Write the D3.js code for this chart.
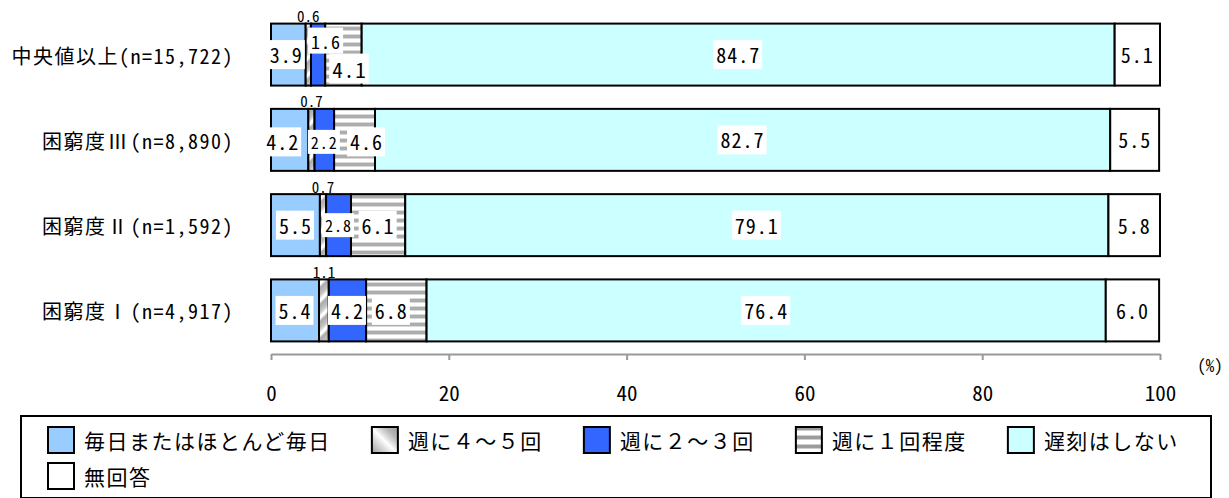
<!DOCTYPE html>
<html><head><meta charset="utf-8">
<script src="https://cdn.jsdelivr.net/npm/d3@7"></script>
<style>
html,body{margin:0;padding:0;background:#fff;}
svg{display:block;}
text{font-family:"Noto Sans CJK JP","Noto Sans",sans-serif;fill:#000;}
.hw{font-feature-settings:"hwid";}
</style></head><body>
<svg id="chart" width="1229" height="498"></svg>
<script>
// ---- data ----
const categories = ["中央値以上(n=15,722)", "困窮度Ⅲ(n=8,890)", "困窮度Ⅱ(n=1,592)", "困窮度Ⅰ(n=4,917)"];
const seriesNames = ["毎日またはほとんど毎日", "週に４～５回", "週に２～３回", "週に１回程度", "遅刻はしない", "無回答"];
const daily    = [3.9, 4.2, 5.5, 5.4];
const week45   = [0.6, 0.7, 0.7, 1.1];
const week23   = [1.6, 2.2, 2.8, 4.2];
const week1    = [4.1, 4.6, 6.1, 6.8];
const never    = [84.7, 82.7, 79.1, 76.4];
const noAnswer = [5.1, 5.5, 5.8, 6.0];
const tickValues = [0, 20, 40, 60, 80, 100];
const unitLabel = "(%)";

// ---- styling / layout config ----
const fills = ["#99CCFF", "url(#diag)", "#3366FF", "url(#hstripe)", "#CCFFFF", "#FFFFFF"];
const legendFills = ["#99CCFF", "url(#diagL)", "#3366FF", "url(#hstripeL)", "#CCFFFF", "#FFFFFF"];
// manual nudges for crowded labels, keyed "row-series"
const labelNudge = {
  "0-0": {dx: -2},
  "0-2": {dx: 8, dy: -14, size: 18},
  "0-3": {dx: 6, dy: 14, size: 21},
  "1-0": {dx: -7, dy: 2},
  "1-2": {dy: 2, size: 16},
  "1-3": {dx: 12, dy: 2},
  "2-2": {size: 16},
  "3-3": {dx: -5}
};

const seriesValues = [daily, week45, week23, week1, never, noAnswer];
const table = categories.map((c, i) => {
  const row = {cat: c};
  seriesNames.forEach((s, j) => row[s] = seriesValues[j][i]);
  return row;
});

const svg = d3.select("#chart");
const defs = svg.append("defs");

// diagonal pattern (bars)
const diag = defs.append("pattern").attr("id", "diag").attr("patternUnits", "userSpaceOnUse")
  .attr("width", 12).attr("height", 12).attr("patternTransform", "rotate(45)");
[[0, 3, "#bcbcbc"], [3, 2, "#d6d6d6"], [5, 3, "#ffffff"], [8, 1, "#dcdcdc"], [9, 3, "#b0b0b0"]]
  .forEach(([x0, w, c]) => diag.append("rect").attr("x", x0).attr("y", 0).attr("width", w).attr("height", 12).attr("fill", c));
// diagonal gradient for legend swatch
const dg = defs.append("linearGradient").attr("id", "diagL").attr("x1", 0).attr("y1", 1).attr("x2", 1).attr("y2", 0);
[[0, "#a0a0a0"], [0.3, "#d8d8d8"], [0.48, "#ffffff"], [0.58, "#e0e0e0"], [0.75, "#b8b8b8"], [1, "#9a9a9a"]]
  .forEach(([o, c]) => dg.append("stop").attr("offset", o).attr("stop-color", c));
// horizontal stripes
const hs = defs.append("pattern").attr("id", "hstripe").attr("patternUnits", "userSpaceOnUse")
  .attr("width", 8).attr("height", 8);
[[0, 2, "#ffffff"], [2, 1, "#dadada"], [3, 3, "#adadad"], [6, 1, "#dadada"], [7, 1, "#ffffff"]]
  .forEach(([y0, h, c]) => hs.append("rect").attr("x", 0).attr("y", y0).attr("width", 8).attr("height", h).attr("fill", c));
// legend horizontal stripes
const hsl = defs.append("pattern").attr("id", "hstripeL").attr("patternUnits", "userSpaceOnUse")
  .attr("width", 8).attr("height", 9);
[[0, 3, "#ffffff"], [3, 1, "#d0d0d0"], [4, 3, "#9c9c9c"], [7, 1, "#d0d0d0"], [8, 1, "#ffffff"]]
  .forEach(([y0, h, c]) => hsl.append("rect").attr("x", 0).attr("y", y0).attr("width", 8).attr("height", h).attr("fill", c));

const x = d3.scaleLinear().domain([0, 100]).range([271, 1160]);
const y = d3.scaleBand().domain(categories).range([12, 353]).paddingInner(0.273).paddingOuter(0.136);

const stack = d3.stack().keys(seriesNames)(table);

// bars
const layers = svg.append("g").selectAll("g").data(stack).join("g")
  .attr("fill", (d, i) => fills[i]);
layers.selectAll("rect").data(d => d).join("rect")
  .attr("x", d => x(d[0]))
  .attr("y", d => y(d.data.cat))
  .attr("width", d => x(d[1]) - x(d[0]))
  .attr("height", y.bandwidth())
  .attr("stroke", "#000").attr("stroke-width", 2);

// value labels
const fmt = d3.format(".1f");
const lg = svg.append("g");
stack.forEach((layer, j) => {
  layer.forEach((d, i) => {
    const key = i + "-" + j;
    const n = labelNudge[key] || {};
    const above = seriesValues[j][i] < 1.5;
    const cx = (x(d[0]) + x(d[1])) / 2 + (n.dx || 0);
    const cy = above ? y(d.data.cat) - 8 : y(d.data.cat) + y.bandwidth() / 2 + (n.dy || 0);
    const size = above ? 15 : (n.size || 20);
    const g = lg.append("g");
    const t = g.append("text").attr("class", "hw").attr("x", cx).attr("y", cy)
      .attr("text-anchor", "middle").attr("dominant-baseline", "central")
      .style("font-size", size + "px").style("letter-spacing", above ? "0px" : "1px")
      .text(fmt(seriesValues[j][i]));
    if (!above) {
      const b = t.node().getBBox();
      g.insert("rect", "text").attr("x", b.x - 3).attr("y", b.y).attr("width", b.width + 5).attr("height", b.height)
        .attr("fill", "#fff");
    }
  });
});

// category labels: CJK part, roman numeral given wider spacing, half-width part
const cl = svg.append("g").selectAll("text").data(categories).join("text")
  .attr("x", 234).attr("y", d => y(d) + y.bandwidth() / 2)
  .attr("text-anchor", "end").attr("dominant-baseline", "central")
  .style("font-size", "20px");
cl.each(function(d) {
  const t = d3.select(this);
  const p = d.indexOf("(");
  const head = d.slice(0, p), tail = d.slice(p);
  const m = head.match(/[\u2160-\u216F]/);
  if (m) {
    const k = head.indexOf(m[0]);
    t.append("tspan").style("letter-spacing", "1.5px").text(head.slice(0, k));
    t.append("tspan").attr("dx", 1).style("letter-spacing", "3px").text(m[0]);
  } else {
    t.append("tspan").style("letter-spacing", "1.5px").text(head);
  }
  t.append("tspan").attr("class", "hw").style("letter-spacing", "1.5px").text(tail);
});

// axis
const ax = svg.append("g").attr("transform", "translate(0,354)")
  .call(d3.axisBottom(x).tickValues(tickValues).tickSize(6).tickSizeOuter(0).tickFormat(d3.format("d")));
ax.select(".domain").attr("stroke", "#999").attr("stroke-width", 2);
ax.selectAll(".tick line").attr("stroke", "#999").attr("stroke-width", 2);
ax.selectAll(".tick text").attr("class", "hw").attr("y", 38).attr("dy", null).attr("dominant-baseline", "central")
  .style("font-size", "21px").style("font-family", "\"Noto Sans CJK JP\",sans-serif").attr("fill", "#000");
svg.append("text").attr("class", "hw").attr("x", 1210).attr("y", 364).attr("text-anchor", "middle").attr("dominant-baseline", "central")
  .style("font-size", "17px").text(unitLabel);

// legend
svg.append("rect").attr("x", 21).attr("y", 416).attr("width", 1190).attr("height", 82)
  .attr("fill", "none").attr("stroke", "#000").attr("stroke-width", 2);
const leg = svg.append("g");
let cursor = 48;
const rowsY = [427, 463];
seriesNames.forEach((s, i) => {
  const row = i < 5 ? 0 : 1;
  if (i === 5) cursor = 48;
  const sy = rowsY[row];
  leg.append("rect").attr("x", cursor).attr("y", sy).attr("width", 26).attr("height", 26)
    .attr("fill", legendFills[i]).attr("stroke", "#000").attr("stroke-width", 2);
  const t = leg.append("text").attr("x", cursor + 36).attr("y", sy + 13)
    .attr("dominant-baseline", "central").style("font-size", "21px").style("letter-spacing", "1.5px").text(s);
  cursor = cursor + 36 + t.node().getComputedTextLength() + 41;
});
</script>
</body></html>
